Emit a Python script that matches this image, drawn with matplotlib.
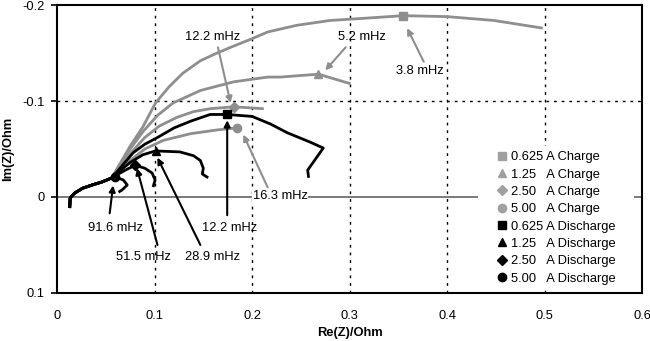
import matplotlib
matplotlib.use('Agg')
import matplotlib.pyplot as plt
from matplotlib.lines import Line2D
from matplotlib.patches import Rectangle

plt.rcParams['font.family'] = ['Liberation Sans', 'DejaVu Sans']
plt.rcParams['font.size'] = 9.3

# common high-frequency part shared by all curves
start_x = [0.013, 0.0135, 0.018, 0.026, 0.036, 0.046, 0.056]
start_y = [0.0115, 0.001, -0.004, -0.009, -0.0125, -0.0156, -0.0198]

# charge curves (grey)
c1_x = [0.063, 0.075, 0.088, 0.101, 0.115, 0.129, 0.147, 0.164, 0.178, 0.200, 0.216, 0.246, 0.280, 0.311, 0.355, 0.400, 0.448, 0.498]
c1_y = [-0.032, -0.053, -0.073, -0.098, -0.115, -0.129, -0.142, -0.150, -0.156, -0.165, -0.172, -0.179, -0.184, -0.186, -0.189, -0.188, -0.184, -0.176]
c2_x = [0.063, 0.075, 0.088, 0.103, 0.119, 0.147, 0.181, 0.216, 0.229, 0.268, 0.301]
c2_y = [-0.031, -0.050, -0.068, -0.085, -0.098, -0.111, -0.120, -0.125, -0.125, -0.128, -0.118]
c3_x = [0.063, 0.075, 0.090, 0.105, 0.123, 0.140, 0.157, 0.181, 0.212]
c3_y = [-0.030, -0.045, -0.062, -0.074, -0.083, -0.089, -0.092, -0.094, -0.092]
c4_x = [0.063, 0.075, 0.090, 0.109, 0.137, 0.165, 0.185]
c4_y = [-0.027, -0.038, -0.050, -0.059, -0.066, -0.070, -0.072]

# discharge curves (black)
d1_x = [0.063, 0.078, 0.090, 0.103, 0.120, 0.137, 0.157, 0.1745, 0.200, 0.219, 0.236, 0.260, 0.273, 0.257, 0.258]
d1_y = [-0.028, -0.046, -0.055, -0.062, -0.072, -0.079, -0.086, -0.086, -0.084, -0.076, -0.067, -0.057, -0.051, -0.028, -0.020]
d2_x = [0.063, 0.075, 0.088, 0.101, 0.126, 0.140, 0.147, 0.150, 0.149, 0.155]
d2_y = [-0.026, -0.036, -0.044, -0.048, -0.047, -0.043, -0.038, -0.030, -0.024, -0.020]
d3_x = [0.063, 0.072, 0.080, 0.090, 0.0975, 0.1006, 0.0985]
d3_y = [-0.024, -0.029, -0.033, -0.030, -0.025, -0.0177, -0.0104]
d4_x = [0.0595, 0.068, 0.072, 0.0667, 0.063]
d4_y = [-0.021, -0.0177, -0.0125, -0.0073, -0.005]

# marked frequency points
mark_x = [0.355, 0.268, 0.181, 0.185, 0.1745, 0.101, 0.080, 0.0595]
mark_y = [-0.189, -0.128, -0.094, -0.072, -0.086, -0.048, -0.033, -0.021]
labels = ['0.625 A Charge', '1.25   A Charge', '2.50   A Charge', '5.00   A Charge',
          '0.625 A Discharge', '1.25   A Discharge', '2.50   A Discharge', '5.00   A Discharge']
markers = ['s', '^', 'D', 'o', 's', '^', 'D', 'o']

# frequency annotations: text, text position, arrow tail, arrow tip, colour
ann_text = ['12.2 mHz', '5.2 mHz', '3.8 mHz', '16.3 mHz', '12.2 mHz', '91.6 mHz', '51.5 mHz', '28.9 mHz']
ann_pos = [(0.159, -0.167), (0.313, -0.167), (0.372, -0.131), (0.229, -0.001),
           (0.177, 0.032), (0.060, 0.032), (0.089, 0.0625), (0.159, 0.0625)]
ann_tail = [(0.165, -0.156), (0.296, -0.156), (0.376, -0.141), (0.216, -0.010),
            (0.1745, 0.019), (0.054, 0.017), (0.103, 0.050), (0.147, 0.050)]
ann_tip = [(0.178, -0.098), (0.275, -0.132), (0.359, -0.176), (0.191, -0.065),
           (0.1745, -0.080), (0.0575, -0.012), (0.082, -0.030), (0.103, -0.041)]
ann_col = ['grey', 'grey', 'grey', 'grey', 'black', 'black', 'black', 'black']

grey = '#8e8e8e'
black = '#000000'

fig = plt.figure(figsize=(6.5, 3.41), dpi=100)
ax = fig.add_axes([0.0877, 0.141, 0.9003, 0.844])

# grid and zero line
for gx in [0.1, 0.2, 0.3, 0.4, 0.5]:
    ax.axvline(gx, color='black', lw=1, ls=(0, (2, 3.5)), zorder=1)
ax.axhline(-0.1, color='black', lw=1, ls=(0, (2, 3.5)), zorder=1)
ax.axhline(0, color='#707070', lw=1.3, zorder=1)

curves = [(c1_x, c1_y, grey), (c2_x, c2_y, grey), (c3_x, c3_y, grey), (c4_x, c4_y, grey),
          (d1_x, d1_y, black), (d2_x, d2_y, black), (d3_x, d3_y, black), (d4_x, d4_y, black)]
for cx, cy, col in curves:
    ax.plot(start_x + cx, start_y + cy, color=col, lw=2, zorder=3, solid_capstyle='butt')

handles = []
for i in range(8):
    col = grey if i < 4 else black
    ms = 6 if markers[i] != 'D' else 5
    ax.plot(mark_x[i], mark_y[i], marker=markers[i], color=col, ms=ms, ls='none', zorder=4)
    handles.append(Line2D([], [], marker=markers[i], color='#a0a0a0' if i < 4 else black,
                          ls='none', ms=ms, label=labels[i]))

for t, p, tail, tip, c in zip(ann_text, ann_pos, ann_tail, ann_tip, ann_col):
    col = grey if c == 'grey' else black
    ax.annotate('', xy=tip, xytext=tail,
                arrowprops=dict(arrowstyle='-|>', color=col, lw=1.5, mutation_scale=9,
                                shrinkA=0, shrinkB=0), zorder=5)
    kw = {}
    if t == '16.3 mHz':
        kw['bbox'] = dict(facecolor='white', edgecolor='none', pad=0.5)
    ax.text(p[0], p[1], t, ha='center', va='center', fontsize=9.3, zorder=6, **kw)

# white box behind the legend
ax.add_patch(Rectangle((0.72, 0.01), 0.266, 0.5, transform=ax.transAxes,
                       facecolor='white', edgecolor='none', zorder=6))
leg = ax.legend(handles=handles, loc='upper left', bbox_to_anchor=(0.746, 0.506),
                frameon=False, fontsize=9.3, handlelength=0.7, handletextpad=0.35,
                labelspacing=0.41, borderpad=0.3, borderaxespad=0)
leg.set_zorder(7)

ax.set_xlim(0, 0.6)
ax.set_ylim(0.1, -0.2)
ax.set_xticks([0, 0.1, 0.2, 0.3, 0.4, 0.5, 0.6])
ax.set_xticklabels(['0', '0.1', '0.2', '0.3', '0.4', '0.5', '0.6'])
ax.set_yticks([-0.2, -0.1, 0, 0.1])
ax.set_yticklabels(['-0.2', '-0.1', '0', '0.1'])
ax.tick_params(axis='x', length=0, pad=12)
ax.tick_params(axis='y', length=4, width=1.2, direction='out', pad=5)
for s in ax.spines.values():
    s.set_linewidth(1.5)
ax.set_xlabel('Re(Z)/Ohm', fontweight='bold', labelpad=4)
ax.set_ylabel('Im(Z)/Ohm', fontweight='bold', labelpad=6)

fig.savefig('out.png', dpi=100)
